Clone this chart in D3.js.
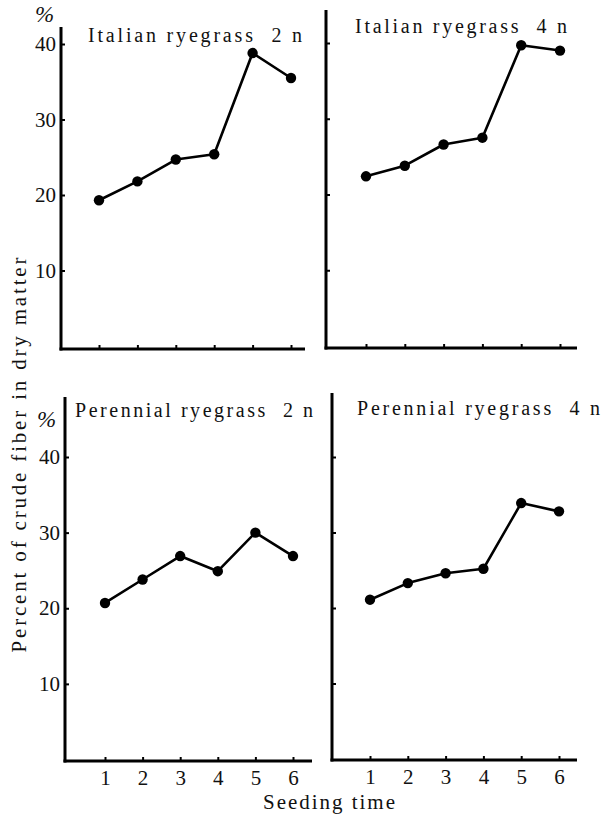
<!DOCTYPE html>
<html><head><meta charset="utf-8">
<script src="https://cdn.jsdelivr.net/npm/d3@7"></script>
<style>body{margin:0;background:#fff} svg text{font-family:"Liberation Serif","Times New Roman","DejaVu Serif",serif !important;}</style>
</head><body>
<svg id="c" width="603" height="816"></svg>
<script>
const seedingTimes = [1, 2, 3, 4, 5, 6];
const yTickValues = [10, 20, 30, 40];
const panelTitles = ["Italian ryegrass  2 n", "Italian ryegrass  4 n", "Perennial ryegrass  2 n", "Perennial ryegrass  4 n"];
const italian2n = [19.3, 21.8, 24.7, 25.4, 38.8, 35.5];
const italian4n = [22.4, 23.8, 26.6, 27.5, 39.7, 39.0];
const perennial2n = [20.7, 23.8, 26.9, 24.9, 30.0, 26.9];
const perennial4n = [21.1, 23.3, 24.6, 25.2, 33.9, 32.8];
const yLabel = "Percent of crude fiber in dry matter";
const xLabel = "Seeding time";

const svg = d3.select("#c");
const FONT = "Liberation Serif, Times New Roman, DejaVu Serif, serif";

const panels = [
  {vals: italian2n, ax: 61, top: 27, bottom: 349, xEnd: 305, y0: 346, y40: 44, x1: 99, x6: 291, yLab: true, xLab: false,
   title: {x: 88, y: 42, len: 214}, pct: {x: 35, y: 22}},
  {vals: italian4n, ax: 326, top: 10, bottom: 348, xEnd: 577, y0: 346, y40: 43, x1: 366, x6: 560, yLab: false, xLab: false,
   title: {x: 355, y: 33, len: 212}},
  {vals: perennial2n, ax: 65, top: 397, bottom: 761, xEnd: 312, y0: 759.5, y40: 457, x1: 105, x6: 293, yLab: true, xLab: true,
   title: {x: 75, y: 417, len: 238}, pct: {x: 37, y: 427}},
  {vals: perennial4n, ax: 332, top: 393, bottom: 760, xEnd: 577, y0: 759, y40: 457, x1: 370, x6: 559, yLab: false, xLab: true,
   title: {x: 357, y: 415, len: 243}}
];

panels.forEach((p, i) => {
  const g = svg.append("g");
  const x = d3.scaleLinear().domain([1, 6]).range([p.x1, p.x6]);
  const y = d3.scaleLinear().domain([0, 40]).range([p.y0, p.y40]);

  const ya = d3.axisLeft(y).tickValues(yTickValues).tickSizeInner(-4).tickSizeOuter(0).tickPadding(5)
    .tickFormat(p.yLab ? d3.format("d") : () => "");
  const yg = g.append("g").attr("transform", `translate(${p.ax},0)`).call(ya);
  yg.attr("font-family", null);
  yg.select(".domain").remove();
  yg.selectAll(".tick line").attr("stroke", "#000").attr("stroke-width", 2);
  yg.selectAll(".tick text").style("font-family", FONT).attr("font-size", 21).attr("fill", "#111");

  const xa = d3.axisBottom(x).tickValues(seedingTimes).tickSizeInner(-4).tickSizeOuter(0).tickPadding(9)
    .tickFormat(p.xLab ? d3.format("d") : () => "");
  const xg = g.append("g").attr("transform", `translate(0,${p.bottom})`).call(xa);
  xg.attr("font-family", null);
  xg.select(".domain").remove();
  xg.selectAll(".tick line").attr("stroke", "#000").attr("stroke-width", 2);
  xg.selectAll(".tick text").style("font-family", FONT).attr("font-size", 21).attr("fill", "#111");

  g.append("line").attr("x1", p.ax).attr("x2", p.ax).attr("y1", p.top).attr("y2", p.bottom + 1.5)
    .attr("stroke", "#000").attr("stroke-width", 3);
  g.append("line").attr("x1", p.ax - 1.5).attr("x2", p.xEnd).attr("y1", p.bottom).attr("y2", p.bottom)
    .attr("stroke", "#000").attr("stroke-width", 3);

  const line = d3.line().x((d, j) => x(seedingTimes[j])).y(d => y(d));
  g.append("path").datum(p.vals).attr("d", line).attr("fill", "none")
    .attr("stroke", "#000").attr("stroke-width", 2.6).attr("stroke-linejoin", "round");
  g.selectAll("circle").data(p.vals).join("circle")
    .attr("cx", (d, j) => x(seedingTimes[j])).attr("cy", d => y(d)).attr("r", 5.2).attr("fill", "#000");

  g.append("text").attr("x", p.title.x).attr("y", p.title.y)
    .style("font-family", FONT).attr("font-size", 20).attr("fill", "#111")
    .attr("textLength", p.title.len).attr("lengthAdjust", "spacing")
    .style("white-space", "pre").text(panelTitles[i]);

  if (p.pct) {
    g.append("text").attr("x", p.pct.x).attr("y", p.pct.y)
      .style("font-family", FONT).attr("font-size", 23).attr("font-style", "italic").attr("fill", "#111")
      .text("%");
  }
});

svg.append("text").attr("transform", "translate(26,455) rotate(-90)")
  .attr("text-anchor", "middle").style("font-family", FONT).attr("font-size", 21).attr("fill", "#111")
  .attr("textLength", 395).attr("lengthAdjust", "spacing")
  .text(yLabel);

svg.append("text").attr("x", 263).attr("y", 809)
  .style("font-family", FONT).attr("font-size", 21).attr("fill", "#111")
  .attr("textLength", 132).attr("lengthAdjust", "spacing")
  .text(xLabel);
</script>
</body></html>
